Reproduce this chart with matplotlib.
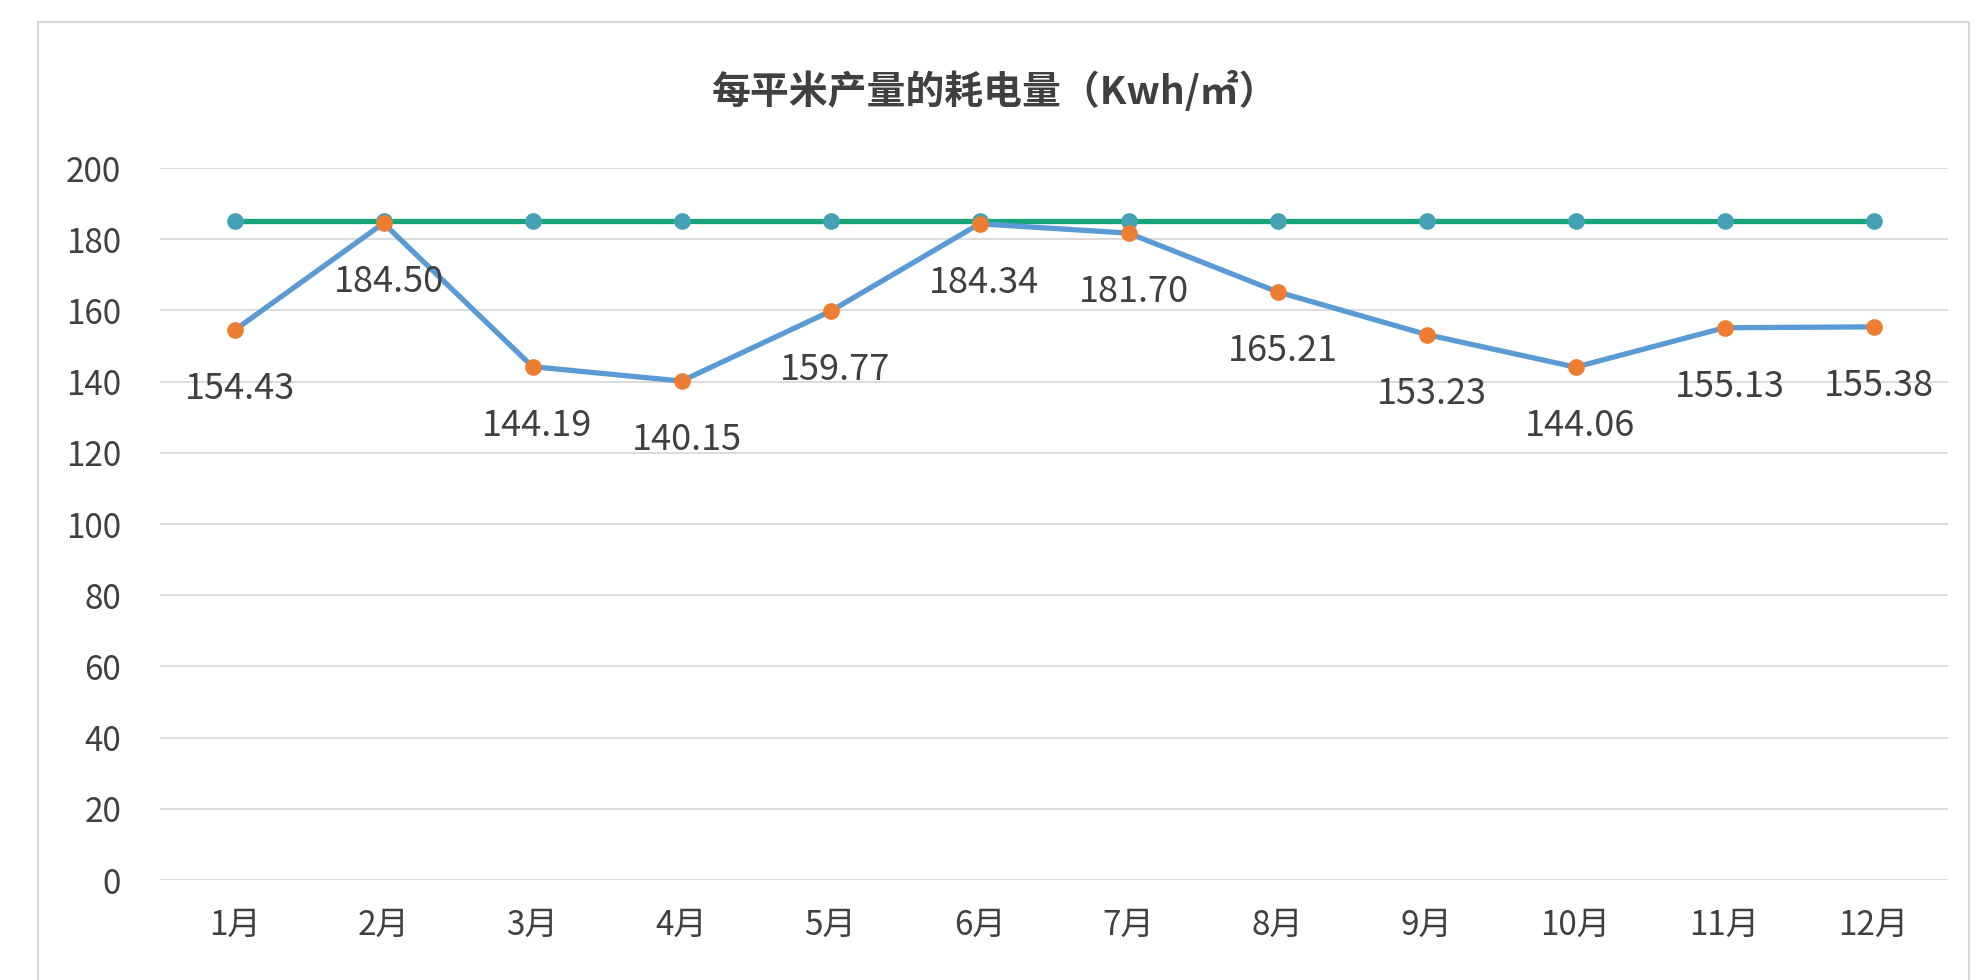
"""Monthly electricity consumption per square metre of output."""

import matplotlib
matplotlib.use("Agg")
import matplotlib.pyplot as plt
from matplotlib.patches import Rectangle

plt.rcParams["font.family"] = ["Noto Sans CJK SC", "DejaVu Sans"]

months = ["1月", "2月", "3月", "4月", "5月", "6月",
          "7月", "8月", "9月", "10月", "11月", "12月"]
consumption = [154.43, 184.50, 144.19, 140.15, 159.77, 184.34,
               181.70, 165.21, 153.23, 144.06, 155.13, 155.38]
target = [185] * 12
y_ticks = [0, 20, 40, 60, 80, 100, 120, 140, 160, 180, 200]
title = "每平米产量的耗电量（Kwh/㎡）"

fig = plt.figure(figsize=(19.76, 9.80), dpi=100)
fig.patch.set_facecolor("white")

# chart frame like the spreadsheet chart area
fig.patches.append(Rectangle((38 / 1976, -0.01), (1969 - 38) / 1976, 1 - 22 / 980 + 0.01,
                             transform=fig.transFigure, fill=False,
                             edgecolor="#d9d9d9", linewidth=1.5))

ax = fig.add_axes([160 / 1976, 1 - 880 / 980, (1948 - 160) / 1976, (880 - 168) / 980])
x = list(range(len(months)))

ax.plot(x, target, color="#17a67a", linewidth=3.8, marker="o", markersize=11,
        markerfacecolor="#45a1b5", markeredgecolor="#45a1b5", zorder=3)
ax.plot(x, consumption, color="#5b9bd5", linewidth=3.8, marker="o", markersize=11,
        markerfacecolor="#ed7d31", markeredgecolor="#ed7d31", zorder=4)

for xi, v in zip(x, consumption):
    ax.annotate(f"{v:.2f}", (xi, v), xytext=(5, -59), textcoords="offset pixels",
                ha="center", va="center", fontsize=26, color="#404040", zorder=5)

ax.set_xlim(-0.5, len(months) - 0.5)
ax.set_ylim(0, 200)
ax.set_yticks(y_ticks)
ax.set_xticks(x)
ax.set_xticklabels(months)
ax.tick_params(axis="both", length=0, labelsize=24, labelcolor="#404040")
ax.tick_params(axis="y", pad=28)
ax.tick_params(axis="x", pad=20)
ax.grid(axis="y", color="#d9d9d9", linewidth=1.3)
ax.set_axisbelow(True)
for s in ax.spines.values():
    s.set_visible(False)

fig.text(995 / 1976, 1 - 91 / 980, title, ha="center", va="center",
         fontsize=28, fontweight="bold", color="#404040")

fig.savefig("out.png", dpi=100)
plt.close(fig)
